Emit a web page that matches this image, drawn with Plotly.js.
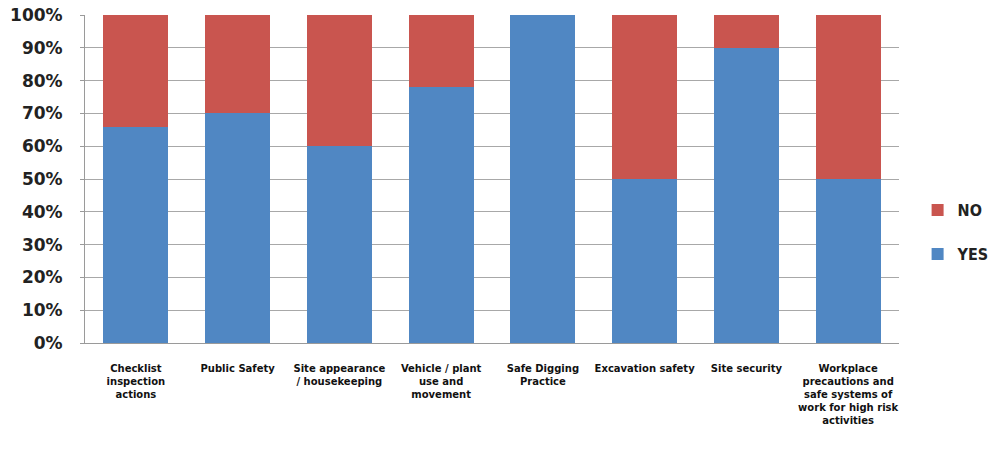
<!DOCTYPE html>
<html>
<head>
<meta charset="utf-8">
<script src="https://cdn.plot.ly/plotly-3.0.1.min.js"></script>
<style>
  html, body { margin: 0; padding: 0; background: #fff; }
  #chart { width: 992px; height: 450px; }
</style>
</head>
<body>
<div id="chart"></div>
<script>
// Audit topics (x axis)
const categories = [
  "Checklist<br>inspection<br>actions",
  "Public Safety",
  "Site appearance<br>/ housekeeping",
  "Vehicle / plant<br>use and<br>movement",
  "Safe Digging<br>Practice",
  "Excavation safety",
  "Site security",
  "Workplace<br>precautions and<br>safe systems of<br>work for high risk<br>activities"
];

// Share of answers per topic, in percent
const yesValues = [66, 70, 60, 78, 100, 50, 90, 50];
const noValues  = [34, 30, 40, 22, 0, 50, 10, 50];

// Y axis ticks
const yTickValues = [0, 10, 20, 30, 40, 50, 60, 70, 80, 90, 100];
const yTickLabels = ["0%", "10%", "20%", "30%", "40%", "50%", "60%", "70%", "80%", "90%", "100%"];

const yesTrace = {
  type: "bar",
  name: "YES",
  x: categories,
  y: yesValues,
  marker: { color: "#5087c3" },
  legendgroup: "yes",
  legendrank: 2,
  hoverinfo: "x+y+name"
};

const noTrace = {
  type: "bar",
  name: "NO",
  x: categories,
  y: noValues,
  marker: { color: "#c9554f" },
  legendgroup: "no",
  legendrank: 1,
  hoverinfo: "x+y+name"
};

const layout = {
  width: 992,
  height: 450,
  barmode: "stack",
  bargap: 0.36,
  paper_bgcolor: "#ffffff",
  plot_bgcolor: "#ffffff",
  margin: { l: 85, r: 93, t: 15, b: 107, pad: 0 },
  showlegend: true,
  legend: {
    xref: "container",
    yref: "container",
    x: 0.925,
    xanchor: "left",
    y: 0.484,
    yanchor: "middle",
    traceorder: "grouped",
    tracegroupgap: 20,
    font: { family: "DejaVu Sans Condensed", size: 16, color: "#222", weight: "bold" },
    itemwidth: 30
  },
  xaxis: {
    type: "category",
    tickangle: 0,
    tickfont: { family: "DejaVu Sans", size: 10, color: "#111", weight: "bold" },
    showgrid: false,
    showline: true,
    linecolor: "#9a9a9a",
    linewidth: 1,
    ticks: "",
    ticklabelstandoff: 16,
    automargin: false
  },
  yaxis: {
    range: [0, 100],
    tickvals: yTickValues,
    ticktext: yTickLabels,
    tickfont: { family: "DejaVu Sans", size: 17, color: "#222", weight: "bold" },
    showgrid: true,
    gridcolor: "#a8a8a8",
    gridwidth: 1,
    showline: true,
    linecolor: "#9a9a9a",
    ticks: "outside",
    ticklen: 4,
    tickcolor: "#9a9a9a",
    ticklabelstandoff: 14,
    zeroline: false,
    automargin: false,
    fixedrange: true
  }
};

Plotly.newPlot("chart", [yesTrace, noTrace], layout, { displayModeBar: false, staticPlot: true });
</script>
</body>
</html>
